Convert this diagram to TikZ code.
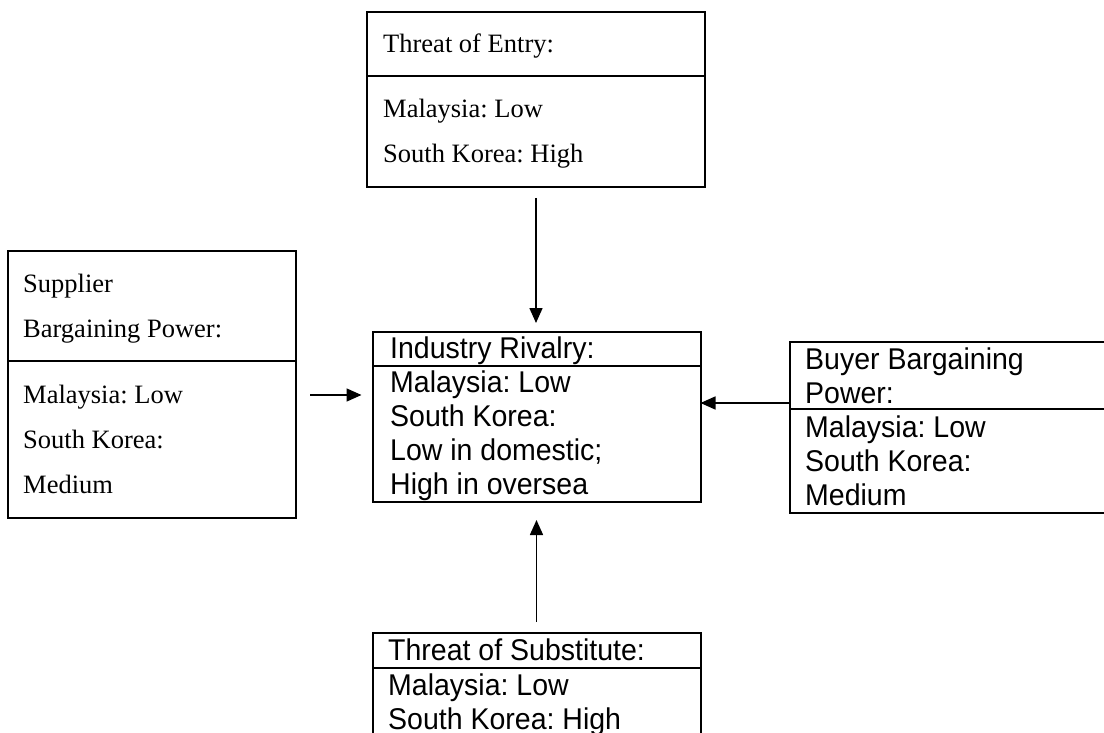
\documentclass[tikz,border=0pt]{standalone}
\usepackage{fontspec}
\setmainfont{Liberation Serif}
\newfontfamily\arialf[FakeStretch=0.95]{Liberation Sans}
\usetikzlibrary{arrows.meta}
\begin{document}
\frenchspacing
\begin{tikzpicture}[x=1pt,y=-1pt,
  boxst/.style={draw=black, line width=2pt, inner sep=0pt, outer sep=0pt, rectangle},
  divline/.style={line width=2pt},
  serift/.style={anchor=base west, inner sep=0pt, font=\fontsize{26.5}{30}\selectfont},
  sanst/.style={anchor=base west, inner sep=0pt, font=\arialf\fontsize{30}{34}\selectfont},
  arr/.style={line width=1.6pt, -{Triangle[length=15pt,width=13pt]}}]
\useasboundingbox (0,0) rectangle (1104,733);

% Threat of Entry
\node[boxst, minimum width=338pt, minimum height=175pt] (entry) at (536,99.5) {};
\draw[divline] (entry.west |- 0,76) -- (entry.east |- 0,76);
\node[serift] (e1) at (383,53) {Threat of Entry:};
\node[serift] (e2) at (383,118) {Malaysia: Low};
\node[serift] (e3) at (383,163) {South Korea: High};

% Supplier
\node[boxst, minimum width=288pt, minimum height=267pt] (supplier) at (152,384.5) {};
\draw[divline] (supplier.west |- 0,361) -- (supplier.east |- 0,361);
\node[serift] (s1) at (23,292) {Supplier};
\node[serift] (s2) at (23,337) {Bargaining Power:};
\node[serift] (s3) at (23,403) {Malaysia: Low};
\node[serift] (s4) at (23,448) {South Korea:};
\node[serift] (s5) at (23,493) {Medium};

% Industry Rivalry
\node[boxst, minimum width=328pt, minimum height=170pt] (rivalry) at (536.5,417) {};
\draw[divline] (rivalry.west |- 0,366) -- (rivalry.east |- 0,366);
\node[sanst] (r1) at (390,358) {Industry Rivalry:};
\node[sanst] (r2) at (390,392) {Malaysia: Low};
\node[sanst] (r3) at (390,426) {South Korea:};
\node[sanst] (r4) at (390,460) {Low in domestic;};
\node[sanst] (r5) at (390,494) {High in oversea};

% Buyer
\node[boxst, minimum width=322pt, minimum height=171pt] (buyer) at (951,427.5) {};
\draw[divline] (buyer.west |- 0,409) -- (buyer.east |- 0,409);
\node[sanst] (b1) at (805,369) {Buyer Bargaining};
\node[sanst] (b2) at (805,403) {Power:};
\node[sanst] (b3) at (805,437) {Malaysia: Low};
\node[sanst] (b4) at (805,471) {South Korea:};
\node[sanst] (b5) at (805,505) {Medium};

% Substitute
\node[boxst, minimum width=328pt, minimum height=107pt] (subst) at (536.5,686.5) {};
\draw[divline] (subst.west |- 0,668) -- (subst.east |- 0,668);
\node[sanst] (t1) at (388,660) {Threat of Substitute:};
\node[sanst] (t2) at (388,695) {Malaysia: Low};
\node[sanst] (t3) at (388,729) {South Korea: High};

% Arrows
\draw[arr, shorten <=11pt, shorten >=9pt] (entry.south) -- (entry.south |- rivalry.north);
\draw[arr, shorten <=11pt, shorten >=18pt] (subst.north) -- (subst.north |- rivalry.south);
\draw[arr, shorten <=14pt, shorten >=11pt] (supplier.east |- 0,395) -- (rivalry.west |- 0,395);
\draw[arr] (buyer.west |- 0,403) -- (rivalry.east |- 0,403);
\end{tikzpicture}
\end{document}
